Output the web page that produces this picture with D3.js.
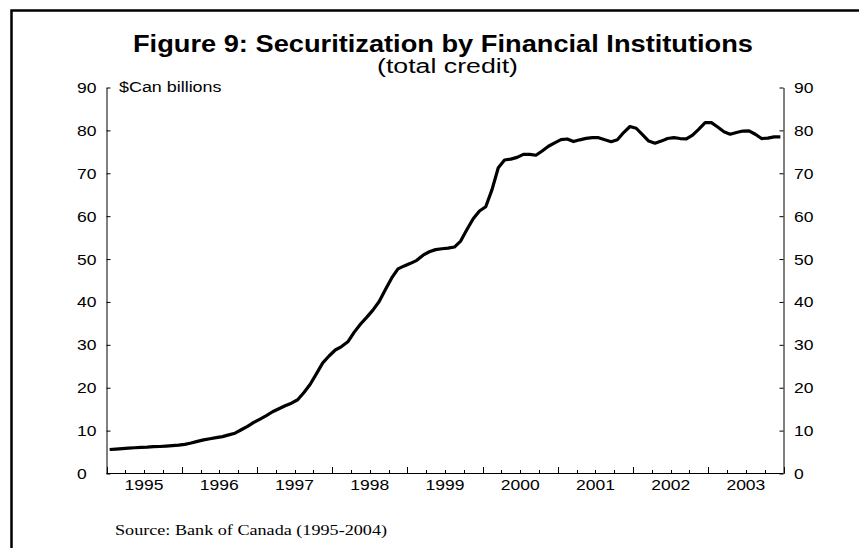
<!DOCTYPE html>
<html>
<head>
<meta charset="utf-8">
<script src="https://cdn.jsdelivr.net/npm/d3@7"></script>
<style>
  html, body { margin: 0; padding: 0; background: #fff; }
  svg { display: block; }
</style>
</head>
<body>
<svg id="chart" width="859" height="548"></svg>
<script>
// ---- Data (monthly, $Can billions) ----
const startYear = 1995;
const v1995 = [5.6, 5.7, 5.8, 5.9, 6.0, 6.1, 6.15, 6.25, 6.3, 6.4, 6.5, 6.6];
const v1996 = [6.8, 7.1, 7.5, 7.85, 8.1, 8.35, 8.6, 9.0, 9.4, 10.2, 11.0, 11.9];
const v1997 = [12.7, 13.5, 14.4, 15.1, 15.8, 16.4, 17.2, 18.9, 20.8, 23.3, 25.8, 27.4];
const v1998 = [28.8, 29.6, 30.7, 32.9, 34.8, 36.4, 38.1, 40.1, 42.9, 45.6, 47.7, 48.4];
const v1999 = [49.0, 49.7, 50.9, 51.7, 52.2, 52.4, 52.55, 52.8, 54.2, 56.9, 59.4, 61.2];
const v2000 = [62.2, 66.2, 71.3, 73.1, 73.3, 73.7, 74.4, 74.4, 74.2, 75.2, 76.3, 77.1];
const v2001 = [77.85, 78.0, 77.4, 77.8, 78.15, 78.3, 78.3, 77.8, 77.35, 77.8, 79.5, 80.9];
const v2002 = [80.5, 79.0, 77.5, 77.0, 77.5, 78.1, 78.3, 78.1, 78.0, 78.9, 80.3, 81.8];
const v2003 = [81.8, 80.8, 79.7, 79.1, 79.5, 79.85, 79.9, 79.1, 78.1, 78.2, 78.5, 78.5];
const yearLabels = ["1995","1996","1997","1998","1999","2000","2001","2002","2003"];
const yTickValues = [0, 10, 20, 30, 40, 50, 60, 70, 80, 90];
const titleText = "Figure 9: Securitization by Financial Institutions";
const subtitleText = "(total credit)";
const unitText = "$Can billions";
const sourceText = "Source: Bank of Canada (1995-2004)";

const values = [].concat(v1995, v1996, v1997, v1998, v1999, v2000, v2001, v2002, v2003);
const series = values.map((v, i) => ({ t: startYear + (i + 0.5) / 12, v }));

// ---- Layout ----
const svg = d3.select("#chart");
const SANS = "'Liberation Sans', Arial, Helvetica, sans-serif";
const SERIF = "'Liberation Serif', 'Times New Roman', serif";
const STRETCH = 1.25;

const x = d3.scaleLinear().domain([1995, 2004]).range([106.5, 783.5]);
const y = d3.scaleLinear().domain([0, 90]).range([473.5, 87.5]);

// helper: horizontally stretch text like the reference
function stretch(sel, factor, anchor) {
  sel.each(function () {
    const el = d3.select(this);
    const L = this.getComputedTextLength();
    const W = L * factor;
    el.attr("textLength", W).attr("lengthAdjust", "spacingAndGlyphs");
    if (anchor === "middle") {
      const cx = +el.attr("x");
      el.attr("text-anchor", "start").attr("x", cx - W / 2);
    } else if (anchor === "end") {
      const rx = +el.attr("x");
      el.attr("text-anchor", "start").attr("x", rx - W);
    }
  });
}

// frame
svg.append("rect")
  .attr("x", 11.5).attr("y", 10.5)
  .attr("width", 900).attr("height", 600)
  .attr("fill", "none").attr("stroke", "#000").attr("stroke-width", 2.5);

// title
svg.append("text")
  .attr("x", 133).attr("y", 51.5)
  .attr("font-family", SANS).attr("font-weight", "bold").attr("font-size", 23.5)
  .attr("fill", "#000")
  .text(titleText)
  .attr("textLength", 620).attr("lengthAdjust", "spacingAndGlyphs");

svg.append("text")
  .attr("x", 377).attr("y", 72.5)
  .attr("font-family", SANS).attr("font-size", 20)
  .attr("fill", "#000")
  .text(subtitleText)
  .attr("textLength", 141).attr("lengthAdjust", "spacingAndGlyphs");

// unit label
svg.append("text")
  .attr("x", 119).attr("y", 91.5)
  .attr("font-family", SANS).attr("font-size", 14)
  .attr("fill", "#000")
  .text(unitText)
  .attr("textLength", 102.5).attr("lengthAdjust", "spacingAndGlyphs");

// left axis
const gL = svg.append("g").attr("transform", `translate(${x.range()[0]},0)`)
  .call(d3.axisLeft(y).tickValues(yTickValues).tickSize(-4).tickSizeOuter(0).tickPadding(0));
gL.select(".domain").attr("stroke", "#000").attr("stroke-width", 1);
gL.selectAll(".tick line").attr("stroke", "#000").attr("stroke-width", 1);
gL.selectAll(".tick text")
  .attr("font-family", SANS).attr("font-size", 14).attr("fill", "#000")
  .attr("text-anchor", "start").attr("x", 77 - x.range()[0]).attr("dy", "0.36em");
gL.attr("font-family", null).attr("font-size", null);
stretch(gL.selectAll(".tick text"), STRETCH, "start");

// right axis
const gR = svg.append("g").attr("transform", `translate(${x.range()[1]},0)`)
  .call(d3.axisRight(y).tickValues(yTickValues).tickSize(-4).tickSizeOuter(0).tickPadding(0));
gR.select(".domain").attr("stroke", "#000").attr("stroke-width", 1);
gR.selectAll(".tick line").attr("stroke", "#000").attr("stroke-width", 1);
gR.selectAll(".tick text")
  .attr("font-family", SANS).attr("font-size", 14).attr("fill", "#000")
  .attr("text-anchor", "start").attr("x", 794 - x.range()[1]).attr("dy", "0.36em");
gR.attr("font-family", null).attr("font-size", null);
stretch(gR.selectAll(".tick text"), STRETCH, "start");

// bottom axis: quarterly minor ticks, yearly major ticks, labels mid-year
const quarterTicks = d3.range(0, 37).map(q => 1995 + q / 4);
const gB = svg.append("g").attr("transform", `translate(0,${y(0)})`);
gB.append("line")
  .attr("x1", x.range()[0]).attr("x2", x.range()[1])
  .attr("y1", 0).attr("y2", 0)
  .attr("stroke", "#000").attr("stroke-width", 1);
gB.selectAll("line.tk").data(quarterTicks).join("line")
  .attr("class", "tk")
  .attr("x1", d => Math.round(x(d)) + 0.5).attr("x2", d => Math.round(x(d)) + 0.5)
  .attr("y1", 0).attr("y2", (d, i) => (i % 4 === 0 ? -6.5 : -3.5))
  .attr("stroke", "#000").attr("stroke-width", 1);
const xl = gB.selectAll("text.yl").data(yearLabels).join("text")
  .attr("class", "yl")
  .attr("x", d => x(+d + 0.5)).attr("y", 16)
  .attr("font-family", SANS).attr("font-size", 14).attr("fill", "#000")
  .text(d => d);
stretch(xl, STRETCH, "middle");

// line
const line = d3.line().x(d => x(d.t)).y(d => y(d.v));
svg.append("path")
  .datum(series)
  .attr("d", line)
  .attr("fill", "none")
  .attr("stroke", "#000")
  .attr("stroke-width", 3.2)
  .attr("stroke-linejoin", "round")
  .attr("stroke-linecap", "butt");

// source
svg.append("text")
  .attr("x", 115).attr("y", 535)
  .attr("font-family", SERIF).attr("font-size", 14.5).attr("fill", "#000")
  .text(sourceText)
  .attr("textLength", 272).attr("lengthAdjust", "spacingAndGlyphs");
</script>
</body>
</html>
